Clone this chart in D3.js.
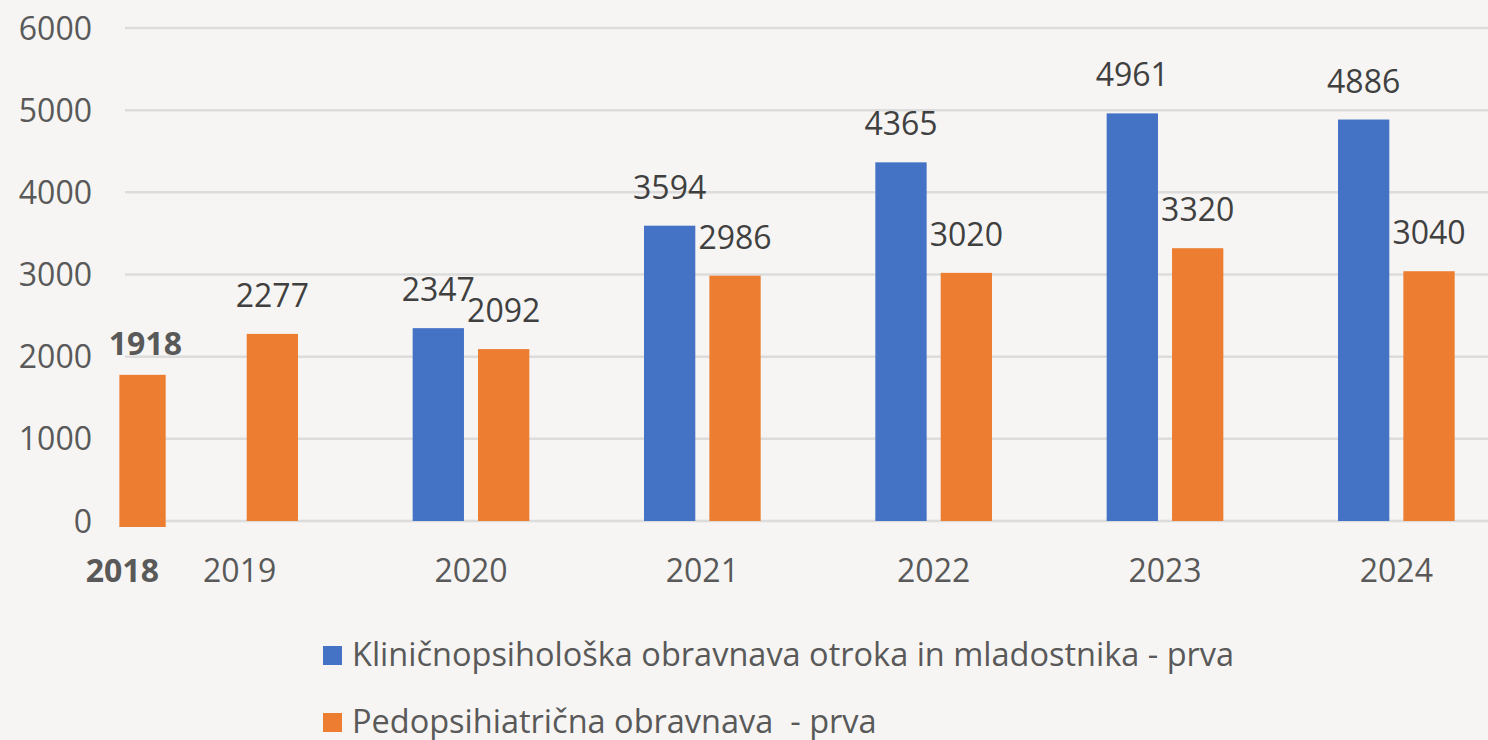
<!DOCTYPE html>
<html>
<head>
<meta charset="utf-8">
<script src="https://cdn.jsdelivr.net/npm/d3@7"></script>
<style>
  html, body { margin: 0; padding: 0; background: #f6f5f3; }
  svg { display: block; font-family: "Open Sans", sans-serif; }
  .legend-text { white-space: pre; }
</style>
</head>
<body>
<div id="chart"></div>
<script>
// data
const years = ['2019', '2020', '2021', '2022', '2023', '2024'];
const seriesNames = [
    'Kliničnopsihološka obravnava otroka in mladostnika - prva',
    'Pedopsihiatrična obravnava  - prva'
];
const klinicna = [null, 2347, 3594, 4365, 4961, 4886];
const pedopsih = [2277, 2092, 2986, 3020, 3320, 3040];
// 2018 was pasted in separately, only the second series
const extraYear = '2018';
const extraValue = 1918;
const yTicks = [0, 1000, 2000, 3000, 4000, 5000, 6000];

const colors = ['#4472c4', '#ed7d31'];

const width = 1488, height = 740;
const margin = { left: 124, top: 28, right: -24, bottom: 219 };

const svg = d3.select('#chart').append('svg')
    .attr('width', width)
    .attr('height', height);

svg.append('rect').attr('width', width).attr('height', height).attr('fill', '#f6f5f3');

const x0 = d3.scaleBand()
    .domain(years)
    .range([margin.left, width - margin.right])
    .paddingInner(0.5)
    .paddingOuter(0.25);

const x1 = d3.scaleBand()
    .domain([0, 1])
    .range([-x0.bandwidth() / 2 - 0.5, x0.bandwidth() / 2 + 0.5])
    .paddingInner(0.215);

const y = d3.scaleLinear()
    .domain([0, 6000])
    .range([height - margin.bottom, margin.top]);

// the pasted 2018 column came from a slightly different scale
const yInset = d3.scaleLinear()
    .domain([0, 6000])
    .range([y(0) + 6, y(6000) + 23]);

// grid
svg.append('g')
    .selectAll('line').data(yTicks)
    .enter()
    .append('line')
    .attr('x1', margin.left + 1)
    .attr('x2', width)
    .attr('y1', d => y(d))
    .attr('y2', d => y(d))
    .attr('stroke', '#dcdcdc')
    .attr('stroke-width', 2.5);

// y axis labels
svg.append('g')
    .selectAll('text').data(yTicks)
    .enter()
    .append('text')
    .attr('x', 92)
    .attr('y', d => y(d))
    .attr('dy', '0.36em')
    .attr('text-anchor', 'end')
    .attr('fill', '#595959')
    .attr('font-size', 32)
    .text(d => d);

// category labels
svg.append('g')
    .selectAll('text').data(years)
    .enter()
    .append('text')
    .attr('x', d => x0(d) + x0.bandwidth() / 2)
    .attr('y', 582)
    .attr('text-anchor', 'middle')
    .attr('fill', '#595959')
    .attr('font-size', 32)
    .text(d => d);

const series = [klinicna, pedopsih];
const bars = [];
series.forEach((vals, s) => {
    vals.forEach((v, i) => {
        if (v != null) bars.push({ year: years[i], s: s, v: v });
    });
});

const cx = d => x0(d.year) + x0.bandwidth() / 2 + x1(d.s);

svg.append('g')
    .selectAll('rect').data(bars)
    .enter()
    .append('rect')
    .attr('x', d => cx(d))
    .attr('y', d => y(d.v))
    .attr('width', x1.bandwidth())
    .attr('height', d => y(0) - y(d.v))
    .attr('fill', d => colors[d.s]);

svg.append('g')
    .selectAll('text').data(bars)
    .enter()
    .append('text')
    .attr('x', d => cx(d) + x1.bandwidth() / 2)
    .attr('y', d => y(d.v) - 27)
    .attr('text-anchor', 'middle')
    .attr('fill', '#404040')
    .attr('font-size', 32)
    .text(d => d.v);

// 2018 inset column, sits left of the 2019 band
const insetX = x0(years[0]) - x0.step() * 0.27;
svg.append('rect')
    .attr('x', insetX)
    .attr('y', yInset(extraValue))
    .attr('width', x1.bandwidth() - 5)
    .attr('height', yInset(0) - yInset(extraValue))
    .attr('fill', colors[1]);

svg.append('text')
    .attr('x', insetX + 26)
    .attr('y', yInset(extraValue) - 20)
    .attr('text-anchor', 'middle')
    .attr('fill', '#595959')
    .attr('font-size', 32)
    .attr('font-weight', 'bold')
    .text(extraValue);

svg.append('text')
    .attr('x', insetX + 3)
    .attr('y', 582)
    .attr('text-anchor', 'middle')
    .attr('fill', '#595959')
    .attr('font-size', 32)
    .attr('font-weight', 'bold')
    .text(extraYear);

// legend
const legend = svg.append('g').attr('transform', 'translate(323,646)');
seriesNames.forEach((name, i) => {
    const g = legend.append('g').attr('transform', `translate(0,${i * 67})`);
    g.append('rect')
        .attr('width', 19)
        .attr('height', 19)
        .attr('fill', colors[i]);
    g.append('text')
        .attr('class', 'legend-text')
        .attr('x', 29)
        .attr('y', 20)
        .attr('fill', '#595959')
        .attr('font-size', 32.5)
        .text(name);
});
</script>
</body>
</html>
